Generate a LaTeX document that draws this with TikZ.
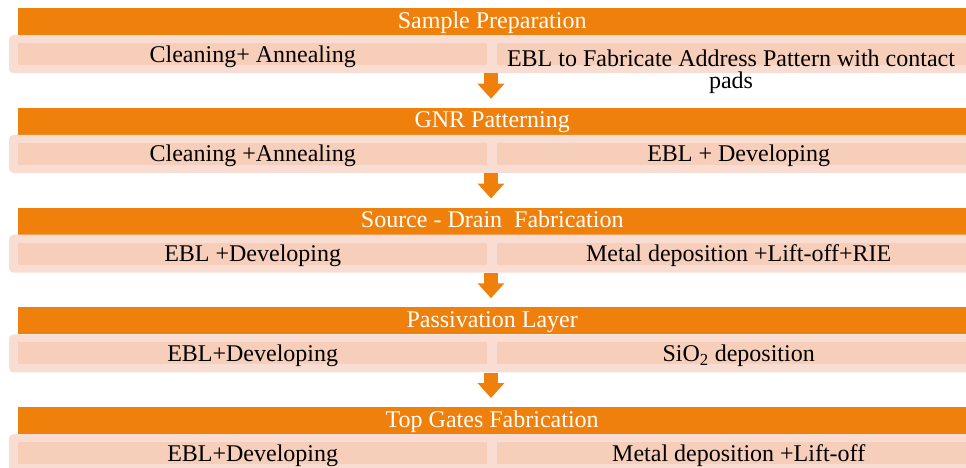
\documentclass[tikz,border=0pt]{standalone}
\usepackage{fontspec}
\setmainfont{Liberation Serif}
\usetikzlibrary{arrows.meta}
\definecolor{barorange}{RGB}{240,128,12}
\definecolor{rowpale}{RGB}{249,221,211}
\definecolor{cellpeach}{RGB}{247,206,186}
\begin{document}
\begin{tikzpicture}[x=1pt,y=-1pt,
  txt/.style={font=\fontsize{24}{22}\selectfont},
  header/.style={txt, fill=barorange, text=white, minimum width=948pt,
    minimum height=27pt, inner sep=0pt, anchor=north west,
    text height=20pt, text depth=7pt},
  band/.style={fill=rowpale, rounded corners=4pt, minimum width=981pt,
    minimum height=38pt, inner sep=0pt, anchor=north west},
  cellL/.style={txt, fill=cellpeach, minimum width=469pt, minimum height=22pt,
    inner sep=0pt, anchor=north west, text height=19pt, text depth=3pt},
  cellR/.style={cellL, minimum width=483pt},
  flow/.style={draw=barorange, line width=14pt,
    -{Triangle[width=26pt,length=15pt]}}]
\useasboundingbox (0,0) rectangle (966,468);

% Stage 1
\node[header] (h1) at (18,8) {Sample Preparation};
\node[band] (b1) at (9,35) {};
\node[cellL] (l1) at (18,43) {Cleaning+ Annealing};
\node[cellR] (r1) at (497,43) {};
% two-line label: base anchor sits on the last line
\node[txt, anchor=base, align=center, inner sep=0pt] (r1t) at (731,89)
  {EBL to Fabricate Address Pattern with contact\\pads};

% Stage 2
\node[header] (h2) at (18,107.75) {GNR Patterning};
\node[band] (b2) at (9,134.75) {};
\node[cellL] (l2) at (18,142.75) {Cleaning +Annealing};
\node[cellR] (r2) at (497,142.75) {EBL + Developing};

% Stage 3
\node[header] (h3) at (18,207.5) {Source - Drain\ \ Fabrication};
\node[band] (b3) at (9,234.5) {};
\node[cellL] (l3) at (18,242.5) {EBL +Developing};
\node[cellR] (r3) at (497,242.5) {Metal deposition +Lift-off+RIE};

% Stage 4
\node[header] (h4) at (18,307.25) {Passivation Layer};
\node[band] (b4) at (9,334.25) {};
\node[cellL] (l4) at (18,342.25) {EBL+Developing};
\node[cellR] (r4) at (497,342.25) {SiO\textsubscript{2} deposition};

% Stage 5
\node[header] (h5) at (18,407) {Top Gates Fabrication};
\node[band] (b5) at (9,434) {};
\node[cellL] (l5) at (18,442) {EBL+Developing};
\node[cellR] (r5) at (497,442) {Metal deposition +Lift-off};

% Downward arrows between stages
\foreach \a/\b in {b1/h2, b2/h3, b3/h4, b4/h5} {
  \draw[flow] ([xshift=-6pt]\a.south -| r1.west)
    -- ([xshift=-6pt,yshift=9pt]\b.north -| r1.west);
}
\end{tikzpicture}
\end{document}
